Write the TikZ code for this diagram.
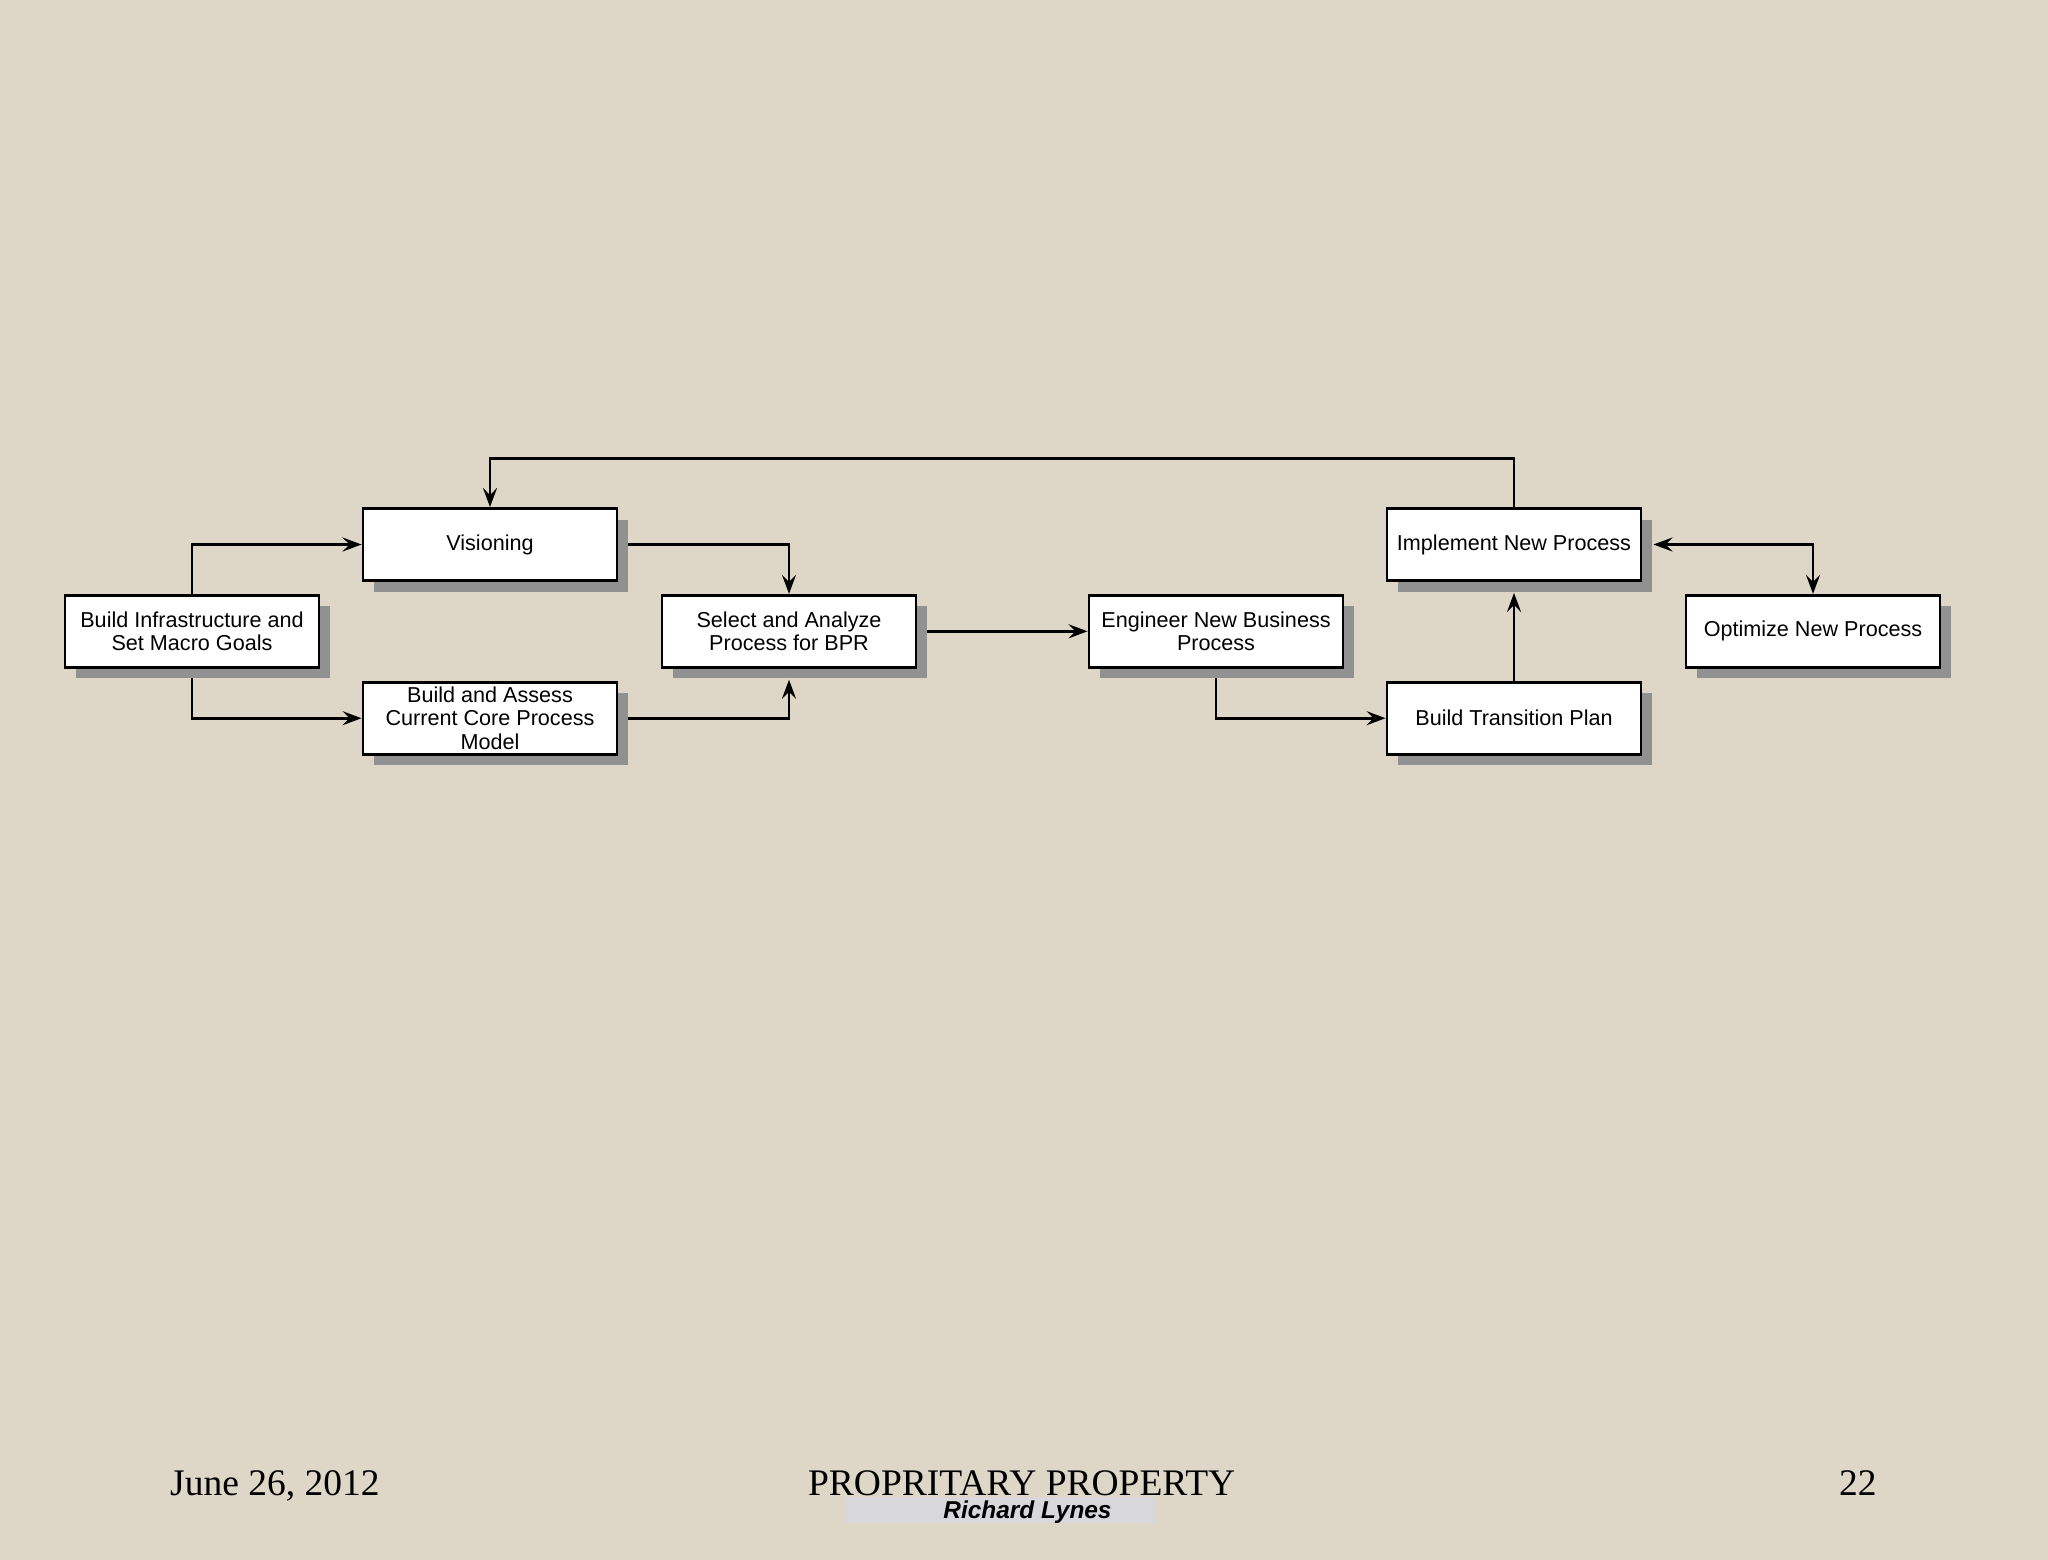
\documentclass[tikz,border=0pt]{standalone}
\usepackage{fontspec}
\setmainfont{Liberation Serif}
\newfontfamily\arialf{Liberation Sans}
\usetikzlibrary{arrows.meta,shadows,backgrounds}
\definecolor{bgcol}{RGB}{222,214,199}
\definecolor{shadowgray}{RGB}{145,145,145}
\definecolor{footgray}{RGB}{216,216,218}
\tikzset{
  procbox/.style={draw=black, line width=2.9pt, fill=white, minimum width=254pt,
    minimum height=72pt, inner sep=0pt, align=center,
    font=\arialf\fontsize{21.6}{23.4}\selectfont,
    general shadow={fill=shadowgray, shadow xshift=11pt, shadow yshift=-11pt}},
  conn/.style={line width=2.6pt, -{Stealth[length=19pt,width=14pt,inset=7pt]}},
  conntwo/.style={line width=2.6pt, {Stealth[length=19pt,width=14pt,inset=7pt]}-{Stealth[length=19pt,width=14pt,inset=7pt]}},
  foot/.style={inner sep=0pt, font=\fontsize{37.5}{40}\selectfont}
}
\begin{document}
\begin{tikzpicture}[x=1pt,y=-1pt]
\useasboundingbox (0,0) rectangle (2048,1560);
\node[procbox] (infra) at (192,631.3) {Build Infrastructure and\\Set Macro Goals};
\node[procbox] (vis) at (490,544.5) {Visioning};
\node[procbox] (assess) at (490,718.2) {Build and Assess\\Current Core Process\\Model};
\node[procbox] (select) at (789,631.3) {Select and Analyze\\Process for BPR};
\node[procbox] (engineer) at (1216,631.3) {Engineer New Business\\Process};
\node[procbox] (implement) at (1514,544.5) {Implement New Process};
\node[procbox] (transition) at (1514,718.2) {Build Transition Plan};
\node[procbox] (optimize) at (1813,631.3) {Optimize New Process};
\coordinate (fb) at (1000,458.3);
% footer
\node[fill=footgray, minimum width=311pt, minimum height=26pt, inner sep=0pt] (namebox) at (1000.5,1510.3) {};
\node[foot, anchor=base west] (date) at (170,1495) {June 26, 2012};
\node[foot, anchor=base] (prop) at (1021.7,1495) {PROPRITARY PROPERTY};
\node[foot, anchor=base east] (page) at (1876.7,1495) {22};
\node[inner sep=0pt, anchor=base, font=\arialf\bfseries\itshape\fontsize{24.4}{26}\selectfont] (author) at (1027.5,1518.3) {Richard Lynes};
\begin{scope}[on background layer]
\fill[bgcol] (0,0) rectangle (2048,1560);
\draw[conn] (infra.north) |- (vis.west);
\draw[conn] (infra.south) |- (assess.west);
\draw[conn] (vis.east) -| (select.north);
\draw[conn] (assess.east) -| ([yshift=-11pt]select.south);
\draw[conn] (select.east) -- (engineer.west);
\draw[conn] (engineer.south) |- (transition.west);
\draw[conn] (transition.north) -- ([yshift=-11pt]implement.south);
\draw[conntwo] ([xshift=11pt]implement.east) -| (optimize.north);
\draw[conn] (implement.north) -- (implement.north |- fb) -| (vis.north);
\end{scope}
\end{tikzpicture}
\end{document}
